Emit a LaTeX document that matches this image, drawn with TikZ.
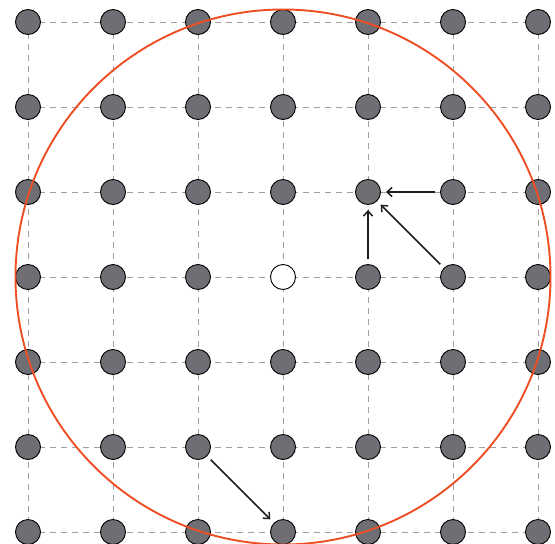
\documentclass[tikz,border=0pt]{standalone}
\usetikzlibrary{arrows.meta}
\definecolor{dotgray}{RGB}{110,110,116}
\definecolor{gridgray}{RGB}{160,160,160}
\definecolor{ringred}{RGB}{238,78,36}
\definecolor{arrowdark}{RGB}{30,30,30}
\begin{document}
\begin{tikzpicture}[x=1pt,y=-1pt,
  gridline/.style={draw=gridgray,line width=1pt,dash pattern=on 6pt off 5pt},
  site/.style={circle,draw=black,line width=0.9pt,fill=dotgray,minimum size=25pt,inner sep=0pt},
  vacancy/.style={site,fill=white},
  hop/.style={draw=arrowdark,line width=1.5pt,-{Straight Barb[length=5pt,width=9pt]},shorten <=5pt,shorten >=5pt},
  ring/.style={draw=ringred,line width=1.9pt}]
\useasboundingbox (0,0) rectangle (555,544);
% lattice coordinates
\foreach \i in {0,...,6}{
  \foreach \j in {0,...,6}{
    \coordinate (c-\i-\j) at ({28+85*\i},{22+85*\j});
  }
}
% dashed grid
\foreach \k in {0,...,6}{
  \draw[gridline] (c-0-\k) -- (c-6-\k);
  \draw[gridline] (c-\k-0) -- (c-\k-6);
}
% sites
\foreach \i in {0,...,6}{
  \foreach \j in {0,...,6}{
    \ifnum\i=3 \ifnum\j=3
      \node[vacancy] (d-\i-\j) at (c-\i-\j) {};
    \else
      \node[site] (d-\i-\j) at (c-\i-\j) {};
    \fi
    \else
      \node[site] (d-\i-\j) at (c-\i-\j) {};
    \fi
  }
}
% hops
\draw[hop] (d-5-2) -- (d-4-2);
\draw[hop] (d-4-3) -- (d-4-2);
\draw[hop] (d-5-3) -- (d-4-2);
\draw[hop] (d-2-5) -- (d-3-6);
% cutoff circle
\node[ring,circle,minimum size=535pt,inner sep=0pt] (cutoff) at (d-3-3) {};
\end{tikzpicture}
\end{document}
